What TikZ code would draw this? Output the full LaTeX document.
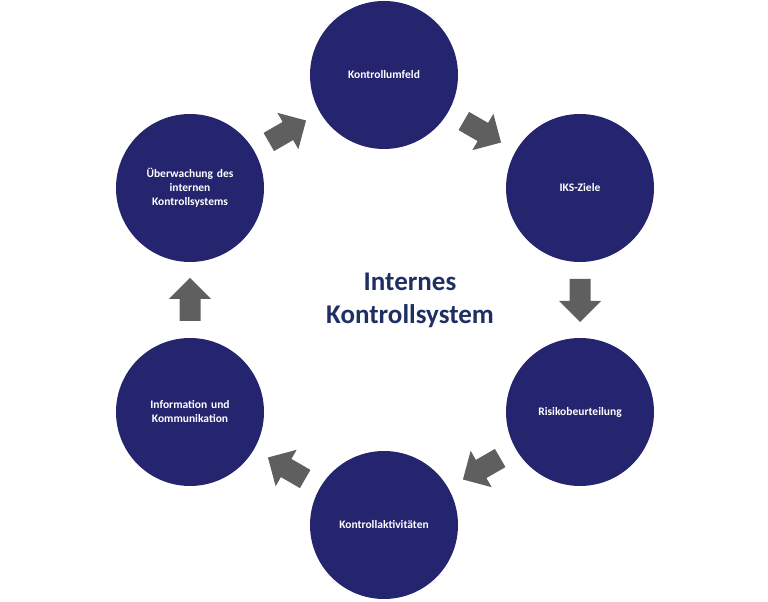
\documentclass[tikz,border=0pt]{standalone}
\usepackage{fontspec}
\setmainfont{Carlito}
\usetikzlibrary{calc}
\definecolor{navy}{HTML}{24246F}
\definecolor{titleblue}{HTML}{1F2F63}
\definecolor{arrowgray}{HTML}{5F5F5F}
\tikzset{
  phase/.style={circle, fill=navy, minimum size=148pt, inner sep=0pt, text width=115pt, align=center, text=white, font=\fontsize{11.5}{14}\selectfont\bfseries},
}
\newcommand{\blockarrow}[3]{%
  \begin{scope}[shift={($(#1)!0.5!(#2)$)}, rotate=#3]
  \fill[arrowgray] (-21pt,-10.5pt) -- (1pt,-10.5pt) -- (1pt,-21pt) -- (22pt,0pt) -- (1pt,21pt) -- (1pt,10.5pt) -- (-21pt,10.5pt) -- cycle;
  \end{scope}%
}
\begin{document}
\begin{tikzpicture}[x=1pt,y=1pt]
\useasboundingbox (0,0) rectangle (768,602);
\node[phase] (k) at (384,527) {Kontrollumfeld};
\node[phase] (z) at (580,414) {IKS-Ziele};
\node[phase] (r) at (580,190) {Risikobeurteilung};
\node[phase] (a) at (384,77) {Kontrollaktivitäten};
\node[phase] (i) at (190,190) {Information und\\Kommunikation};
\node[phase] (u) at (190,414) {Überwachung des\\internen\\Kontrollsystems};
\node[font=\fontsize{27}{33}\selectfont\bfseries, text=titleblue, align=center] (t) at (410,302) {Internes\\Kontrollsystem};
\blockarrow{k}{z}{-30}
\blockarrow{z}{r}{-90}
\blockarrow{r}{a}{-150}
\blockarrow{a}{i}{150}
\blockarrow{i}{u}{90}
\blockarrow{u}{k}{30}
\end{tikzpicture}
\end{document}
